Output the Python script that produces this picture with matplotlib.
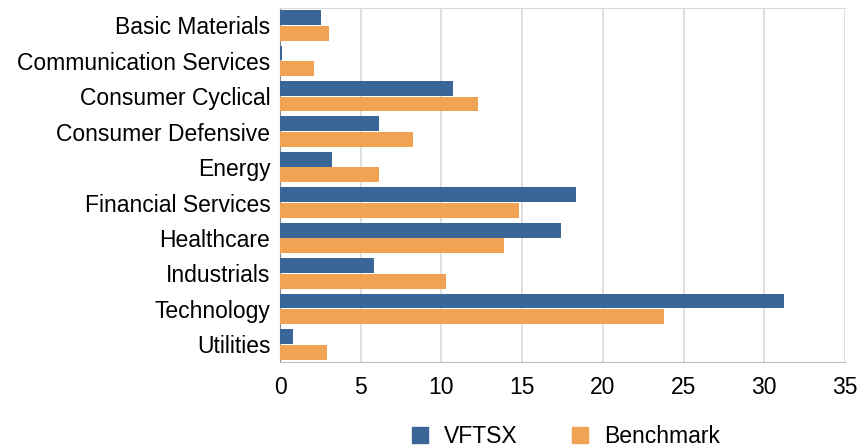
import matplotlib
matplotlib.use("Agg")
import matplotlib.pyplot as plt
import numpy as np
from matplotlib.patches import Patch

plt.rcParams['font.family'] = ['Liberation Sans', 'DejaVu Sans']

categories = ["Basic Materials", "Communication Services", "Consumer Cyclical",
              "Consumer Defensive", "Energy", "Financial Services", "Healthcare",
              "Industrials", "Technology", "Utilities"]
vftsx = [2.54, 0.12, 10.71, 6.13, 3.21, 18.31, 17.39, 5.80, 31.22, 0.79]
benchmark = [3.03, 2.10, 12.26, 8.23, 6.13, 14.81, 13.89, 10.29, 23.81, 2.94]
xticks = [0, 5, 10, 15, 20, 25, 30, 35]

blue = "#3A6597"
orange = "#EFA353"

fig = plt.figure(figsize=(8.59, 4.48), dpi=100)
ax = fig.add_axes([0.326, 0.192, 0.6577, 0.791])

y = np.arange(len(categories))
h = 0.42
ax.barh(y - h / 2 - 0.01, vftsx, height=h, color=blue, zorder=3)
ax.barh(y + h / 2 + 0.01, benchmark, height=h, color=orange, zorder=3)

ax.set_ylim(len(categories) - 0.5, -0.5)
ax.set_xlim(0, 35)
ax.set_xticks(xticks)
ax.set_yticks(y)
ax.set_yticklabels(categories)
ax.tick_params(axis='both', length=0, labelsize=16.5)
ax.tick_params(axis='y', pad=7)
ax.tick_params(axis='x', pad=10)
ax.xaxis.grid(True, color='#D9D9D9', linewidth=1.2, zorder=0)
ax.set_axisbelow(True)

ax.spines['top'].set_color('#D9D9D9')
ax.spines['left'].set_color('#8C8C8C')
ax.spines['bottom'].set_color('#BFBFBF')
ax.spines['right'].set_visible(False)

handles = [Patch(color=blue, label="VFTSX"), Patch(color=orange, label="Benchmark")]
fig.legend(handles=handles, loc='center', bbox_to_anchor=(0.659, 0.025), ncol=2,
           frameon=False, fontsize=16.5, handlelength=0.7, handleheight=0.7,
           columnspacing=2.35, handletextpad=0.7)

fig.savefig("out.png", dpi=100)
